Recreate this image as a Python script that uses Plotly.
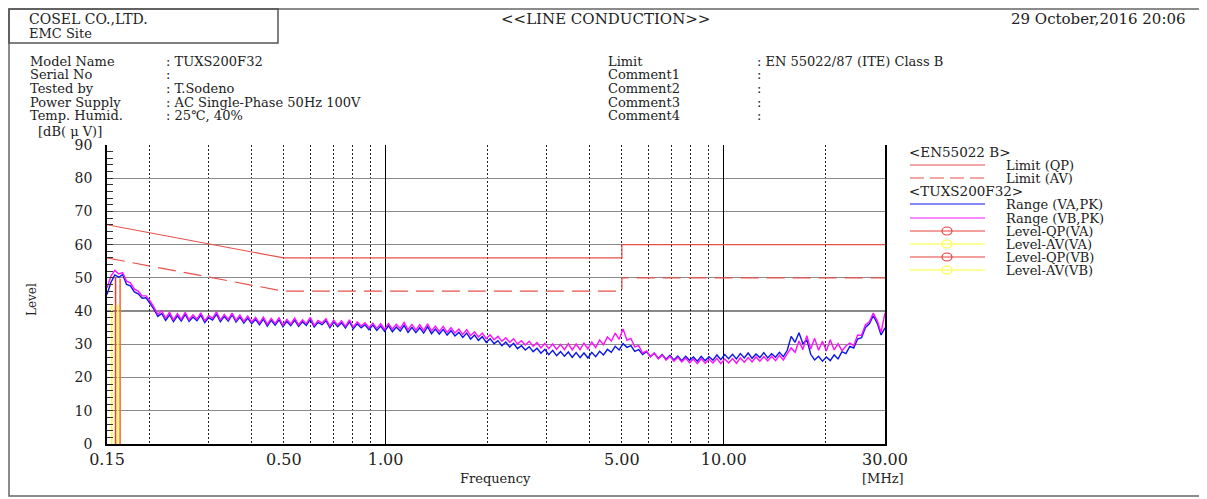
import numpy as np
import plotly.graph_objects as go

# ---------------- data ----------------
n_points = 200
sweep_start_mhz = 0.15
sweep_stop_mhz = 30.0

range_va_pk = [
    45.0, 48.6, 50.9, 50.2, 51.0, 48.0, 47.6, 45.8, 45.2, 43.9,
    44.0, 42.3, 40.6, 38.4, 39.3, 37.2, 38.9, 36.8, 38.6, 37.0,
    39.0, 36.9, 38.2, 37.1, 38.8, 36.6, 38.0, 37.3, 39.1, 36.8,
    38.4, 37.0, 38.9, 36.7, 38.2, 36.4, 37.9, 36.2, 37.5, 35.9,
    37.6, 35.5, 37.2, 35.8, 37.4, 35.3, 36.9, 35.6, 37.3, 35.4,
    36.8, 35.7, 37.5, 35.2, 36.6, 35.9, 37.1, 35.0, 36.7, 35.3,
    36.5, 34.9, 36.8, 34.7, 36.2, 35.0, 35.9, 34.4, 35.8, 34.2,
    35.5, 33.9, 35.6, 33.8, 35.2, 34.0, 35.7, 33.6, 35.1, 33.5,
    35.0, 33.4, 35.3, 33.2, 34.6, 33.1, 34.5, 32.8, 34.1, 32.5,
    33.6, 32.1, 33.4, 31.6, 32.8, 31.2, 32.3, 30.6, 31.7, 30.2,
    31.1, 29.6, 30.7, 29.2, 30.3, 28.7, 29.6, 28.3, 29.3, 27.8,
    28.8, 27.3, 28.5, 26.9, 28.2, 26.6, 27.8, 26.4, 27.7, 26.1,
    27.5, 26.0, 27.4, 25.9, 27.6, 26.3, 27.9, 26.8, 28.5, 27.6,
    29.4, 28.3, 30.2, 29.1, 29.6, 27.9, 28.4, 26.9, 27.8, 26.3,
    27.4, 25.8, 26.9, 25.5, 26.7, 25.3, 26.5, 25.1, 26.4, 25.2,
    26.2, 24.9, 26.4, 25.1, 26.3, 25.2, 26.8, 25.4, 26.9, 25.7,
    27.0, 25.6, 27.2, 25.9, 27.4, 25.8, 27.1, 26.0, 27.5, 25.9,
    27.2, 26.1, 27.6, 26.3, 28.2, 32.4, 30.6, 33.5, 30.2, 31.4,
    27.0, 25.3, 26.4, 24.9, 26.2, 25.1, 26.8, 25.6, 27.8, 27.2,
    29.4, 28.9, 31.6, 32.0, 35.1, 36.2, 38.6, 36.4, 32.8, 35.0,
]

range_vb_pk = [
    47.0, 50.5, 52.3, 51.2, 51.6, 49.0, 48.5, 46.6, 46.0, 44.6,
    44.6, 43.1, 41.2, 39.0, 40.1, 37.8, 39.7, 37.3, 39.3, 37.6,
    39.6, 37.4, 38.9, 37.6, 39.5, 37.1, 38.7, 37.8, 39.8, 37.3,
    39.0, 37.5, 39.4, 37.2, 38.8, 36.9, 38.5, 36.7, 38.1, 36.4,
    38.2, 36.0, 37.8, 36.3, 38.0, 35.8, 37.5, 36.1, 37.9, 35.9,
    37.4, 36.2, 38.1, 35.7, 37.2, 36.4, 37.7, 35.5, 37.3, 35.8,
    37.1, 35.4, 37.4, 35.2, 36.8, 35.5, 36.5, 35.0, 36.4, 34.8,
    36.2, 34.5, 36.3, 34.6, 36.0, 34.8, 36.6, 34.4, 36.0, 34.3,
    35.9, 34.2, 36.2, 34.0, 35.5, 33.9, 35.4, 33.6, 35.0, 33.4,
    34.6, 33.0, 34.4, 32.6, 33.8, 32.2, 33.4, 31.7, 32.9, 31.4,
    32.4, 30.9, 32.0, 30.6, 31.7, 30.1, 31.1, 29.8, 30.9, 29.4,
    30.5, 28.9, 30.3, 28.7, 30.1, 28.5, 30.0, 28.4, 30.2, 28.3,
    30.1, 28.4, 30.4, 28.6, 30.7, 29.0, 31.3, 29.9, 32.2, 31.0,
    33.4, 31.5, 34.6, 31.2, 31.8, 29.2, 29.6, 27.4, 28.0, 26.3,
    27.3, 25.6, 26.8, 25.2, 26.4, 24.9, 26.1, 24.7, 25.9, 24.5,
    25.6, 24.2, 25.7, 24.3, 25.5, 24.4, 25.8, 24.2, 25.6, 24.4,
    25.7, 24.3, 25.9, 24.6, 26.0, 24.7, 26.2, 24.9, 26.3, 25.0,
    26.4, 25.1, 26.7, 25.3, 27.2, 28.9, 27.6, 31.0, 28.4, 32.6,
    28.6, 31.8, 28.2, 30.9, 28.0, 31.4, 28.3, 30.2, 28.1, 29.5,
    30.4, 29.6, 32.8, 32.7, 35.9, 36.8, 39.4, 37.2, 33.6, 39.5,
]

limit_freq = [0.15, 0.5, 5.0, 5.0, 30.0]
limit_qp = [66, 56, 56, 60, 60]
limit_av = [56, 46, 46, 50, 50]

qp_va_freq, qp_va_level = [0.159], [50.3]
qp_vb_freq, qp_vb_level = [0.164], [49.8]
av_va_freq, av_va_level = [0.155], [42.0]
av_vb_freq, av_vb_level = [0.1615], [42.0]

x_tick_vals = [0.15, 0.5, 1, 5, 10, 30]
x_tick_text = ["0.15", "0.50", "1.00", "5.00", "10.00", "30.00"]
x_minor_vals = [0.2, 0.3, 0.4, 0.5, 0.6, 0.7, 0.8, 0.9, 2, 3, 4, 5, 6, 7, 8, 9, 20]
x_solid_vals = [1, 10]

# ---------------- style ----------------
FONT = "DejaVu Serif"
C_BLUE = "#0a14f0"
C_MAG = "#ff10ff"
C_LIM = "#e8504a"
C_QP = "#e8413c"
C_QP2 = "#f0703a"
C_AV = "#ffff33"
TXT = "#222222"

freq = np.geomspace(sweep_start_mhz, sweep_stop_mhz, n_points)

fig = go.Figure()


def stems(fs, lv):
    xs, ys = [], []
    for f, v in zip(fs, lv):
        xs += [f, f, None]
        ys += [0, v, None]
    return xs, ys


fig.add_trace(go.Scatter(x=freq, y=range_va_pk, mode="lines", name="Range (VA,PK)",
                         line=dict(color=C_BLUE, width=1.4)))
fig.add_trace(go.Scatter(x=freq, y=range_vb_pk, mode="lines", name="Range (VB,PK)",
                         line=dict(color=C_MAG, width=1.4)))
fig.add_trace(go.Scatter(x=limit_freq, y=limit_qp, mode="lines", name="Limit (QP)",
                         line=dict(color=C_LIM, width=1.2)))
fig.add_trace(go.Scatter(x=limit_freq, y=limit_av, mode="lines", name="Limit (AV)",
                         line=dict(color=C_LIM, width=1.2, dash="18px,8px")))
for fs, lv, col, nm in [(qp_va_freq, qp_va_level, C_QP, "Level-QP(VA)"),
                        (qp_vb_freq, qp_vb_level, C_QP2, "Level-QP(VB)"),
                        (av_va_freq, av_va_level, C_AV, "Level-AV(VA)"),
                        (av_vb_freq, av_vb_level, C_AV, "Level-AV(VB)")]:
    xs, ys = stems(fs, lv)
    fig.add_trace(go.Scatter(x=xs, y=ys, mode="lines", name=nm,
                             line=dict(color=col, width=1.6)))
# empty trace to carry the solid-grid overlay axis
fig.add_trace(go.Scatter(x=[None], y=[None], xaxis="x2", yaxis="y", showlegend=False,
                         hoverinfo="skip"))

# page-pixel geometry (the figure sits 8px in from the page corner)
OFF = 8
L, R, T, B = 107, 885, 145, 444
W, H = 1207 - OFF, 499 - OFF


def X(p):
    return (p - L) / (R - L)


def Y(p):
    return (B - p) / (B - T)


xr = [np.log10(sweep_start_mhz), np.log10(sweep_stop_mhz)]

fig.update_layout(
    width=W, height=H, autosize=False,
    margin=dict(l=L - OFF, r=W - (R - OFF), t=T - OFF, b=H - (B - OFF), pad=0),
    paper_bgcolor="white", plot_bgcolor="white",
    showlegend=False,
    font=dict(family=FONT, color=TXT, size=13),
    xaxis=dict(type="log", range=xr, tickmode="array", tickvals=x_tick_vals,
               ticktext=x_tick_text, showgrid=False, zeroline=False,
               showline=True, linecolor="black", linewidth=1.5, ticks="",
               tickfont=dict(size=16, family=FONT, color=TXT), ticklabelstandoff=0,
               minor=dict(tickmode="array", tickvals=x_minor_vals, showgrid=True,
                          griddash="2px,2px", gridcolor="#222222", gridwidth=1,
                          ticks="")),
    xaxis2=dict(type="log", range=xr, overlaying="x", anchor="y", tickmode="array",
                tickvals=x_solid_vals, showticklabels=False, showgrid=True,
                gridcolor="black", gridwidth=1.2, ticks="", zeroline=False,
                showline=False),
    yaxis=dict(range=[0, 90], tickmode="array", tickvals=list(range(0, 91, 10)),
               showgrid=True, gridcolor="#8a8a8a", gridwidth=1.3, zeroline=False,
               showline=True, mirror=True, linecolor="black", linewidth=1.5,
               ticks="inside", ticklen=6, tickcolor="#333333",
               tickfont=dict(size=14, family=FONT, color=TXT), ticklabelstandoff=10,
               minor=dict(dtick=2, ticks="inside", ticklen=6, tickcolor="#333333",
                          showgrid=False)),
)

shapes = []
# darker reference line at 40 dB
shapes.append(dict(type="line", xref="paper", yref="y", x0=0, x1=1, y0=40, y1=40,
                   line=dict(color="#111111", width=1.3), layer="below"))
# outer frame and header box
shapes.append(dict(type="rect", xref="paper", yref="paper", x0=X(9), x1=X(1203),
                   y0=Y(9), y1=Y(496), line=dict(color="#666666", width=1.5)))
shapes.append(dict(type="rect", xref="paper", yref="paper", x0=X(9), x1=X(278),
                   y0=Y(9), y1=Y(43), line=dict(color="#555555", width=1.5)))

ann = []


def text(x, y, s, size=13, anchor="left", angle=0):
    ann.append(dict(x=X(x), y=Y(y), xref="paper", yref="paper", text=s,
                    showarrow=False, xanchor=anchor, yanchor="middle",
                    textangle=angle, font=dict(family=FONT, size=size, color=TXT)))


# header
text(27, 19, "COSEL CO.,LTD.", size=14)
text(27, 33, "EMC Site", size=13)
text(605, 19, "&lt;&lt;LINE CONDUCTION&gt;&gt;", size=15, anchor="center")
text(1188, 19, "29 October,2016 20:06", size=15, anchor="right")

left_labels = ["Model Name", "Serial No", "Tested by", "Power Supply", "Temp. Humid."]
left_values = [": TUXS200F32", ":", ": T.Sodeno", ": AC Single-Phase 50Hz 100V", ": 25℃, 40%"]
right_labels = ["Limit", "Comment1", "Comment2", "Comment3", "Comment4"]
right_values = [": EN 55022/87 (ITE) Class B", ":", ":", ":", ":"]
rows_y = [62, 75, 89, 102, 115]
for yy, a, b, c, d in zip(rows_y, left_labels, left_values, right_labels, right_values):
    text(28, yy, a, size=13)
    text(164, yy, b, size=13)
    text(606, yy, c, size=13)
    text(755, yy, d, size=13)

text(36, 131, "[dB( μ V)]", size=13)
text(32, 300, "Level", size=12, anchor="center", angle=-90)
text(495, 478, "Frequency", size=13, anchor="center")
text(883, 478, "[MHz]", size=13, anchor="center")

# manual legend
leg_items = [
    (152, "title", "&lt;EN55022 B&gt;", None, None, None),
    (165, "line", "Limit (QP)", C_LIM, None, None),
    (178, "line", "Limit (AV)", C_LIM, "dash", None),
    (191, "title", "&lt;TUXS200F32&gt;", None, None, None),
    (204, "line", "Range (VA,PK)", C_BLUE, None, None),
    (218, "line", "Range (VB,PK)", C_MAG, None, None),
    (231, "line", "Level-QP(VA)", C_QP, None, "circle"),
    (244, "line", "Level-AV(VA)", C_AV, None, "circle"),
    (257, "line", "Level-QP(VB)", C_QP, None, "circle"),
    (270, "line", "Level-AV(VB)", C_AV, None, "circle"),
]
for yy, kind, label, col, dash, mk in leg_items:
    if kind == "title":
        text(907, yy, label, size=13.5)
        continue
    shapes.append(dict(type="line", xref="paper", yref="paper", x0=X(910), x1=X(985),
                       y0=Y(yy), y1=Y(yy),
                       line=dict(color=col, width=1.2, dash="14px,6px" if dash else "solid")))
    if mk:
        shapes.append(dict(type="circle", xref="paper", yref="paper", xsizemode="pixel",
                           ysizemode="pixel", xanchor=X(947), yanchor=Y(yy),
                           x0=-5, x1=5, y0=-4, y1=4, line=dict(color=col, width=1.2)))
    text(1004, yy, label, size=13)

fig.update_layout(shapes=shapes, annotations=ann)
fig.write_html("out.html")
